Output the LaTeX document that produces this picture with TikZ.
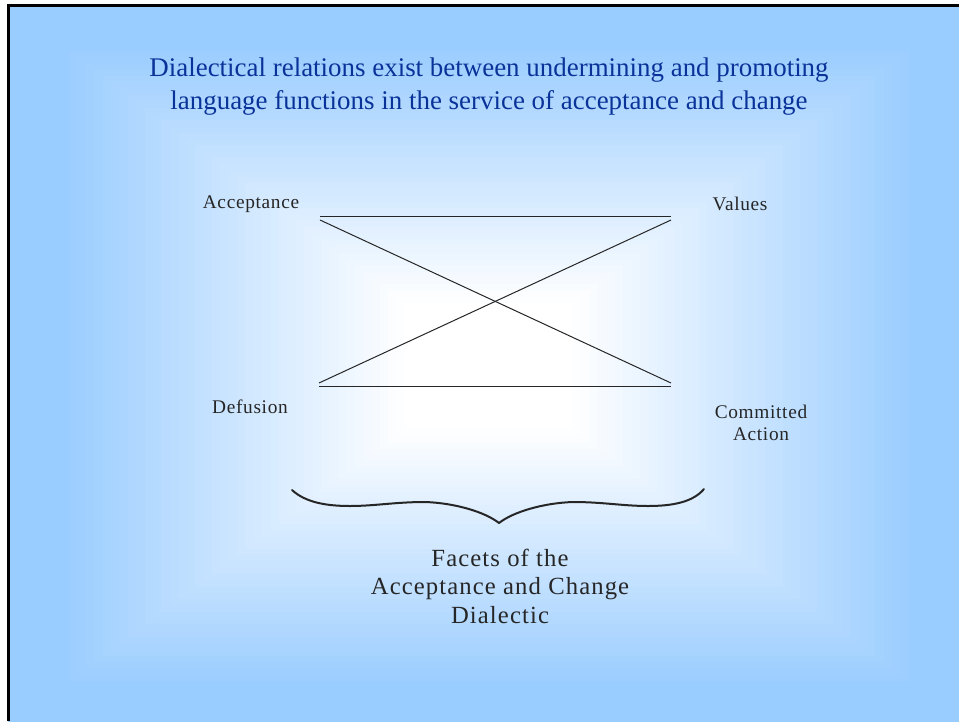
\documentclass[tikz,border=0pt]{standalone}
\usepackage{fontspec}
\setmainfont{Liberation Serif}
\newfontfamily\lblfont[LetterSpace=3.5]{Liberation Serif}
\newfontfamily\facetfont[LetterSpace=4.5]{Liberation Serif}
\definecolor{bgblue}{HTML}{99CCFF}
\definecolor{titleblue}{HTML}{0A3399}
\definecolor{ink}{HTML}{262626}
\tikzset{
  titletext/.style={text=titleblue, align=center, inner sep=0pt, font=\fontsize{20.2}{24.75}\selectfont},
  lbl/.style={text=ink, align=center, inner sep=0pt, font=\lblfont\fontsize{14.5}{16.5}\selectfont},
  facet/.style={text=ink, align=center, inner sep=0pt, font=\facetfont\fontsize{18.5}{21.4}\selectfont},
  xline/.style={draw=ink, line width=0.75pt},
  bracestyle/.style={draw=ink, line width=1.5pt, line cap=round, line join=round},
}
\begin{document}
\begin{tikzpicture}[x=0.75pt, y=-0.75pt]
\useasboundingbox (0,0) rectangle (959,721);
\fill[white] (0,0) rectangle (959,721);
% rectangular "from centre" gradient
\begin{scope}
\clip (8,5) rectangle (959,721);
\foreach \i in {0,...,60}{
  \pgfmathsetmacro{\r}{1.05-\i/60*1.05}
  \pgfmathsetmacro{\p}{min(100,max(0,(\r-0.18)/0.72*100))}
  \fill[bgblue!\p!white] ({489-480*\r},{366-360*\r}) rectangle ({489+480*\r},{366+360*\r});
}
\end{scope}
% frame
\draw[black, line width=2.25pt] (8,721) -- (8,5.5) -- (959,5.5);

% title
\node[titletext] (title) at (489,86.5) {Dialectical relations exist between undermining and promoting\\language functions in the service of acceptance and change};

% corners of the X figure
\coordinate (tl) at (320,216);
\coordinate (tr) at (671,216);
\coordinate (bl) at (319,386);
\coordinate (br) at (671,386);
\coordinate (tld) at (320,220);
\coordinate (trd) at (671,220);
\coordinate (bld) at (319,383);
\coordinate (brd) at (671,383);
\draw[xline] (tl) -- (tr);
\draw[xline] (bl) -- (br);
\draw[xline] (tld) -- (brd);
\draw[xline] (bld) -- (trd);

% labels
\node[lbl] (acc) at (251,204) {Acceptance};
\node[lbl] (val) at (740,204) {Values};
\node[lbl] (def) at (250,407) {Defusion};
\node[lbl] (com) at (761,423) {Committed\\Action};

% brace
\coordinate (bl0) at (292,490);
\coordinate (btip) at (499,523);
\coordinate (br0) at (704,489);
\draw[bracestyle] (bl0) .. controls (305,502) and (325,506) .. (350,506)
  .. controls (375,506) and (395,502) .. (425,502)
  .. controls (455,503) and (485,512) .. (btip)
  .. controls (513,512) and (543,503) .. (573,502)
  .. controls (603,502) and (623,506) .. (648,506)
  .. controls (673,506) and (693,502) .. (br0);

% facet text
\node[facet] (facets) at (500,586) {Facets of the\\Acceptance and Change\\Dialectic};
\end{tikzpicture}
\end{document}
